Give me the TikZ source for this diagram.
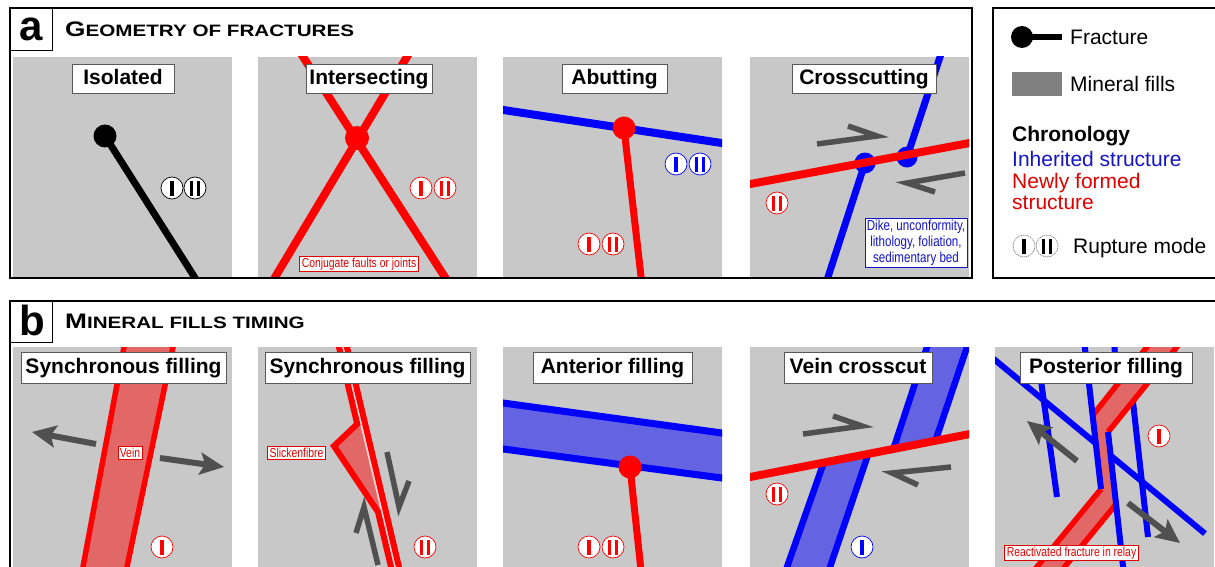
\documentclass[tikz,border=0pt]{standalone}
\usepackage{fontspec}
\setmainfont{Liberation Sans}
\newfontfamily\narrowfont[FakeStretch=0.8]{Liberation Sans}
\newfontfamily\titlefont[FakeStretch=1.25]{Liberation Sans}
\usetikzlibrary{arrows.meta}
\definecolor{bggray}{RGB}{200,200,200}
\definecolor{fred}{RGB}{255,0,0}
\definecolor{fblue}{RGB}{0,0,255}
\definecolor{salmon}{RGB}{226,104,104}
\definecolor{bluefill}{RGB}{100,100,226}
\definecolor{arrgray}{RGB}{80,80,80}
\definecolor{txtblue}{RGB}{20,20,200}
\definecolor{txtred}{RGB}{225,0,0}
\definecolor{gapcol}{RGB}{242,212,212}
\definecolor{fillgray}{RGB}{128,128,128}
\tikzset{
  frame/.style={draw=black,line width=2.5},
  lbox/.style={draw=black,line width=1},
  ttl/.style={draw=black!65,line width=0.8,fill=white,font=\fontsize{21}{21}\selectfont\bfseries,inner sep=0,minimum height=29,text height=16,text depth=4},
  ttlb/.style={ttl,minimum height=31},
  note/.style={fill=white,draw=#1,text=#1,line width=0.6,font=\narrowfont\fontsize{13}{15}\selectfont,inner xsep=2,inner ysep=1.5,align=center},
  harr/.style={draw=arrgray,line width=5.5,line join=miter,line cap=butt},
  farr/.style={draw=arrgray,line width=6,-{Stealth[length=24pt,width=22pt,inset=5pt]}},
  leg/.style={anchor=base west,inner sep=0,font=\fontsize{21}{21}\selectfont},
  pics/rupone/.style={code={
    \draw[#1,fill=white,line width=0.7] (0,0) circle (11);
    \fill[#1] (-2,-7.5) rectangle (2,7.5);}},
  pics/ruptwo/.style={code={
    \draw[#1,fill=white,line width=0.7] (0,0) circle (11);
    \fill[#1] (-5,-7.5) rectangle (-1.7,7.5);
    \fill[#1] (1.7,-7.5) rectangle (5,7.5);}},
}
\begin{document}
\begin{tikzpicture}[x=1pt,y=-1pt]
\useasboundingbox (0,0) rectangle (1215,567);
\fill[white] (0,0) rectangle (1215,567);

% ================= PANEL A =================
% --- Isolated
\fill[bggray] (13,57) rectangle (232,277);
\begin{scope}
  \clip (13,57) rectangle (232,277);
  \draw[line width=7] (105,136) -- (197,281);
\end{scope}
\fill (105,136) circle (11.5);
\pic at (172,188) {rupone=black};
\pic at (195,188) {ruptwo=black};
\node[ttl,minimum width=102] (t1) at (123,78.5) {Isolated};

% --- Intersecting
\fill[bggray] (258,57) rectangle (477,277);
\begin{scope}
  \clip (258,57) rectangle (477,277);
  \draw[fred,line width=8] (289,35) -- (459,299);
  \draw[fred,line width=8] (420,35) -- (262,299);
\end{scope}
\fill[fred] (357,138) circle (12);
\pic at (421,188) {rupone=fred};
\pic at (445,188) {ruptwo=fred};
\node[note=txtred] (n1) at (359,264) {Conjugate faults or joints};
\node[ttl,minimum width=126] (t2) at (369,78.5) {Intersecting};

% --- Abutting
\fill[bggray] (503,57) rectangle (722,277);
\begin{scope}
  \clip (503,57) rectangle (722,277);
  \draw[fblue,line width=8] (500,109.5) -- (725,143.5);
  \draw[fred,line width=7] (624,128) -- (642,285);
\end{scope}
\fill[fred] (624,128) circle (11.5);
\pic at (676,164) {rupone=fblue};
\pic at (700,164) {ruptwo=fblue};
\pic at (589,244) {rupone=fred};
\pic at (613,244) {ruptwo=fred};
\node[ttl,minimum width=105] (t3) at (614.5,78.5) {Abutting};

% --- Crosscutting
\fill[bggray] (750,57) rectangle (969,277);
\begin{scope}
  \clip (750,57) rectangle (969,277);
  \draw[fblue,line width=7] (823.8,290) -- (865,163);
  \draw[fblue,line width=7] (907,157) -- (945.6,40);
  \fill[fblue] (865,163) circle (10.5);
  \fill[fblue] (907,157) circle (10.5);
  \draw[fred,line width=8] (745,185) -- (975,142);
\end{scope}
\draw[harr] (817,144) -- (877,136) -- (848,126);
\draw[harr] (965,173) -- (907,183) -- (935,192);
\pic at (777,203) {ruptwo=fred};
\node[note=txtblue,font=\narrowfont\fontsize{14.5}{16}\selectfont] (n2) at (916,243) {Dike, unconformity,\\lithology, foliation,\\sedimentary bed};
\node[ttl,minimum width=144] (t4) at (864,78.5) {Crosscutting};

% frame a
\draw[frame] (10,8) rectangle (972,278);
\draw[lbox] (10,8) rectangle (52,51);
\node[inner sep=0,font=\fontsize{42}{42}\selectfont\bfseries] (la) at (31.5,29.5) {a};
\node[anchor=base west,inner sep=0,font=\titlefont\bfseries] (ha) at (65,36.5)
  {{\fontsize{21}{21}\selectfont G}{\fontsize{16.5}{16.5}\selectfont EOMETRY OF FRACTURES}};

% ================= LEGEND =================
\draw[frame] (993,8) rectangle (1222,278);
\draw[line width=6.5] (1022,37) -- (1062,37);
\fill (1022,37) circle (11);
\node[leg] (lf) at (1070,44.5) {Fracture};
\fill[fillgray] (1012,72) rectangle (1062,96);
\node[leg] (lm) at (1070,91.5) {Mineral fills};
\node[leg,font=\fontsize{21}{21}\selectfont\bfseries] (lc) at (1012,142) {Chronology};
\node[leg,text=txtblue] (li) at (1012,166.5) {Inherited structure};
\node[leg,text=txtred,align=left,font=\fontsize{21}{21}\selectfont] (ln) at (1012,209) {Newly formed\\structure};
\draw[gray,fill=white,line width=0.7,dash pattern=on 1.2pt off 0.8pt] (1024,246) circle (11);
\fill (1022,238.5) rectangle (1026,253.5);
\draw[gray,fill=white,line width=0.7,dash pattern=on 1.2pt off 0.8pt] (1047,246) circle (11);
\fill (1042,238.5) rectangle (1045.3,253.5);
\fill (1048.7,238.5) rectangle (1052,253.5);
\node[leg] (lr) at (1073,253) {Rupture mode};

% ================= PANEL B =================
% --- Synchronous filling (vein)
\fill[bggray] (13,347) rectangle (232,570);
\begin{scope}
  \clip (13,347) rectangle (232,570);
  \fill[salmon] (125.3,340) -- (174.5,340) -- (125.3,575) -- (81.5,575) -- cycle;
  \draw[fred,line width=5.5] (125.3,340) -- (81.5,575);
  \draw[fred,line width=5.5] (174.5,340) -- (125.3,575);
\end{scope}
\node[note=txtred] (n3) at (130,453) {Vein};
\draw[farr] (96,444) -- (32,432);
\draw[farr] (160,458) -- (224,467);
\pic at (162,547) {rupone=fred};
\node[ttlb,minimum width=205] (t5) at (123.5,367.5) {Synchronous filling};

% --- Synchronous filling (slickenfibre)
\fill[bggray] (258,347) rectangle (477,570);
\begin{scope}
  \clip (258,347) rectangle (477,570);
  \fill[salmon] (357.2,424) -- (334,446) -- (378,512) -- (382,512) -- (361.2,424) -- cycle;
  \draw[gapcol,line width=2] (341.3,340) -- (396.9,575);
  \draw[fred,line width=6,line join=miter] (337.3,340) -- (357.2,424) -- (334,446) -- (378,512) -- (392.9,575);
  \draw[fred,line width=6] (345.3,340) -- (400.9,575);
\end{scope}
\draw[harr] (387,452) -- (399,507) -- (409,481);
\draw[harr] (378,565) -- (364,507) -- (356,533);
\pic at (425,547) {ruptwo=fred};
\node[note=txtred] (n4) at (296.5,453) {Slickenfibre};
\node[ttlb,minimum width=205] (t6) at (367.5,367.5) {Synchronous filling};

% --- Anterior filling
\fill[bggray] (503,347) rectangle (722,570);
\begin{scope}
  \clip (503,347) rectangle (722,570);
  \fill[bluefill] (498,402.3) -- (727,433.7) -- (727,478.7) -- (498,448.3) -- cycle;
  \draw[fblue,line width=7] (498,402.3) -- (727,433.7);
  \draw[fblue,line width=7] (498,448.3) -- (727,478.7);
  \draw[fred,line width=7] (630,467) -- (641.5,575);
\end{scope}
\fill[fred] (630,467) circle (11.5);
\pic at (589,547) {rupone=fred};
\pic at (613,547) {ruptwo=fred};
\node[ttlb,minimum width=159] (t7) at (612.5,367.5) {Anterior filling};

% --- Vein crosscut
\fill[bggray] (750,347) rectangle (969,570);
\begin{scope}
  \clip (750,347) rectangle (969,570);
  \fill[bluefill] (784.2,575) -- (823.7,462.6) -- (868.3,453.8) -- (827.3,575) -- cycle;
  \draw[fblue,line width=6.5] (784.2,575) -- (823.7,462.6);
  \draw[fblue,line width=6.5] (827.3,575) -- (868.3,453.8);
  \fill[bluefill] (893.4,448.9) -- (929.3,340) -- (969.4,340) -- (935.5,440.6) -- cycle;
  \draw[fblue,line width=6.5] (893.4,448.9) -- (929.3,340);
  \draw[fblue,line width=6.5] (935.5,440.6) -- (969.4,340);
  \draw[fred,line width=8] (745,478) -- (975,433);
\end{scope}
\draw[harr] (803,434) -- (862,426) -- (833,416);
\draw[harr] (951,467) -- (892,473) -- (918,485);
\pic at (777,494) {ruptwo=fred};
\pic at (862,547) {rupone=fblue};
\node[ttlb,minimum width=148] (t8) at (858,367.5) {Vein crosscut};

% --- Posterior filling
\fill[bggray] (995,347) rectangle (1214,570);
\begin{scope}
  \clip (995,347) rectangle (1214,570);
  \draw[fblue,line width=6] (990,355.9) -- (1205,533.6);
  \draw[fblue,line width=6] (1039,366) -- (1057,497);
  \draw[fblue,line width=6] (1114,340) -- (1118,400);
  \draw[fblue,line width=6] (1133,402) -- (1148,537);
  \fill[salmon] (1152.5,340) -- (1182.5,340) -- (1108,432) -- (1117,503) -- (1058,575)
     -- (1030.3,575) -- (1101,489) -- (1093,415) -- cycle;
  \draw[fred,line width=5.5] (1152.5,340) -- (1093,415);
  \draw[fred,line width=5.5] (1182.5,340) -- (1108,432);
  \draw[fred,line width=5.5] (1101,489) -- (1030.3,575);
  \draw[fred,line width=5.5] (1117,503) -- (1058,575);
  \draw[fblue,line width=6] (1084,340) -- (1101,489);
  \draw[fblue,line width=6] (1108,432) -- (1124,575);
\end{scope}
\draw[farr] (1077,461) -- (1027,421);
\draw[farr] (1128,503) -- (1180,543);
\pic at (1159,436) {rupone=fred};
\node[note=txtred] (n5) at (1071.5,553) {Reactivated fracture in relay};
\node[ttlb,minimum width=172] (t9) at (1106,367.5) {Posterior filling};

% frame b
\draw[frame] (10,301) rectangle (1222,580);
\draw[lbox] (10,301) rectangle (52,342);
\node[inner sep=0,font=\fontsize{42}{42}\selectfont\bfseries] (lb) at (32,320) {b};
\node[anchor=base west,inner sep=0,font=\titlefont\bfseries] (hb) at (65,328)
  {{\fontsize{21}{21}\selectfont M}{\fontsize{16.5}{16.5}\selectfont INERAL FILLS TIMING}};
\end{tikzpicture}
\end{document}
